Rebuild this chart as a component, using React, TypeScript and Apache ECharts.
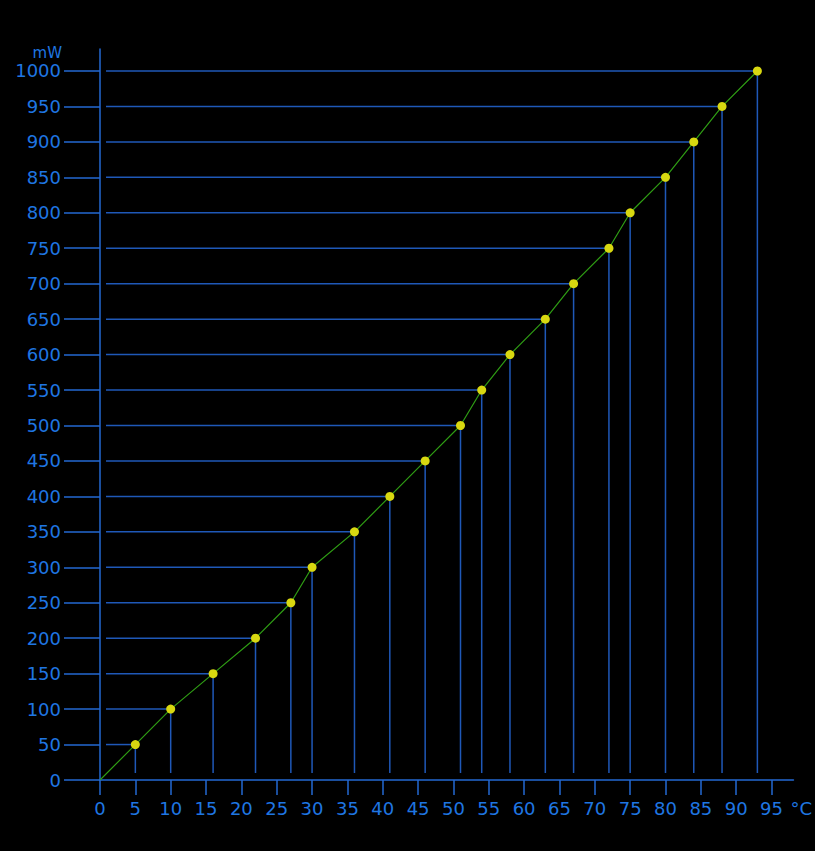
import React, { useEffect, useRef } from "react";
import * as echarts from "echarts";

const temperatures = [5, 10, 16, 22, 27, 30, 36, 41, 46, 51, 54, 58, 63, 67, 72, 75, 80, 84, 88, 93];
const powers = [50, 100, 150, 200, 250, 300, 350, 400, 450, 500, 550, 600, 650, 700, 750, 800, 850, 900, 950, 1000];
const xTicks = [0, 5, 10, 15, 20, 25, 30, 35, 40, 45, 50, 55, 60, 65, 70, 75, 80, 85, 90, 95];
const yTicks = [0, 50, 100, 150, 200, 250, 300, 350, 400, 450, 500, 550, 600, 650, 700, 750, 800, 850, 900, 950, 1000];

const AXIS = "#2368d2";
const LABEL = "#1f76e2";
const GUIDE = "#1f58b8";
const FONT = "DejaVu Sans";

export default function App() {
  const ref = useRef<HTMLDivElement>(null);
  useEffect(() => {
    document.body.style.margin = "0";
    document.body.style.background = "#000";
    const chart = echarts.init(ref.current!, null, { renderer: "svg" });
    const pts = temperatures.map((t, i) => [t, powers[i]]);
    chart.setOption({
      animation: false,
      backgroundColor: "#000",
      grid: { left: 100, right: 20, top: 49, bottom: 71 },
      xAxis: {
        type: "value",
        min: 0,
        max: 98.1,
        name: "°C",
        nameLocation: "end",
        nameGap: 0,
        nameTextStyle: {
          color: LABEL,
          fontFamily: FONT,
          fontSize: 18,
          align: "left",
          verticalAlign: "top",
          padding: [19, 0, 0, -3],
        },
        splitLine: { show: false },
        axisLine: { show: true, lineStyle: { color: AXIS, width: 1.5 } },
        axisTick: { show: true, length: 15, customValues: xTicks, lineStyle: { color: AXIS, width: 1.5 } },
        axisLabel: {
          customValues: xTicks,
          formatter: (v: number) => String(v),
          color: LABEL,
          fontFamily: FONT,
          fontSize: 18,
          margin: 19,
        },
      },
      yAxis: {
        type: "value",
        min: 0,
        max: 1031,
        name: "mW",
        nameLocation: "end",
        nameGap: 0,
        nameTextStyle: {
          color: LABEL,
          fontFamily: FONT,
          fontSize: 15,
          align: "right",
          verticalAlign: "top",
          padding: [-4, 38, 0, 0],
        },
        splitLine: { show: false },
        axisLine: { show: true, lineStyle: { color: AXIS, width: 1.5 } },
        axisTick: { show: true, length: 36, customValues: yTicks, lineStyle: { color: AXIS, width: 1.5 } },
        axisLabel: {
          customValues: yTicks,
          formatter: (v: number) => String(v),
          color: LABEL,
          fontFamily: FONT,
          fontSize: 18,
          margin: 39,
        },
      },
      series: [
        {
          type: "custom",
          data: pts,
          silent: true,
          z: 1,
          renderItem: (params: any, api: any) => {
            const p = api.coord([api.value(0), api.value(1)]);
            const origin = api.coord([0, 0]);
            return {
              type: "group",
              children: [
                {
                  type: "line",
                  shape: { x1: origin[0] + 6, y1: p[1], x2: p[0], y2: p[1] },
                  style: { stroke: GUIDE, lineWidth: 1.5 },
                },
                {
                  type: "line",
                  shape: { x1: p[0], y1: p[1], x2: p[0], y2: origin[1] - 7 },
                  style: { stroke: GUIDE, lineWidth: 1.5 },
                },
              ],
            };
          },
        },
        {
          type: "line",
          z: 3,
          data: [{ value: [0, 0], symbol: "none" }, ...pts],
          symbol: "circle",
          symbolSize: 9,
          showSymbol: true,
          lineStyle: { color: "#2f9e14", width: 1.2 },
          itemStyle: { color: "#d8d810", borderWidth: 0 },
        },
      ],
    });
    return () => chart.dispose();
  }, []);
  return (
    <div
      ref={ref}
      style={{ position: "absolute", left: 0, top: 0, width: 815, height: 851, background: "#000" }}
    />
  );
}
